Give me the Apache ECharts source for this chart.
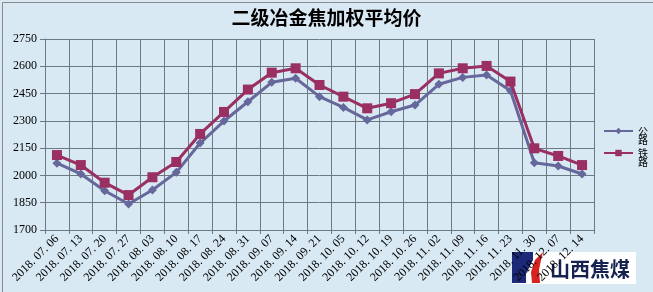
<!DOCTYPE html>
<html>
<head>
<meta charset="utf-8">
<script src="https://cdn.jsdelivr.net/npm/echarts@6/dist/echarts.min.js"></script>
<style>html,body{margin:0;padding:0;background:#d8e9f3;}#c{width:653px;height:292px;}</style>
</head>
<body>
<div id="c"></div>
<script>
const categories = ['2018. 07. 06','2018. 07. 13','2018. 07. 20','2018. 07. 27','2018. 08. 03','2018. 08. 10','2018. 08. 17','2018. 08. 24','2018. 08. 31','2018. 09. 07','2018. 09. 14','2018. 09. 21','2018. 10. 05','2018. 10. 12','2018. 10. 19','2018. 10. 26','2018. 11. 02','2018. 11. 09','2018. 11. 16','2018. 11. 23','2018. 11. 30','2018. 12. 07','2018. 12. 14'];
const roadValues = [2067,2008,1916,1843,1920,2017,2178,2299,2405,2512,2534,2433,2374,2305,2350,2387,2501,2539,2552,2466,2070,2052,2008];
const railValues = [2112,2057,1960,1892,1990,2074,2228,2349,2472,2565,2589,2497,2433,2369,2397,2447,2561,2589,2602,2516,2149,2107,2057];
const yTicks = [1700,1850,2000,2150,2300,2450,2600,2750];
const titleText = '二级冶金焦加权平均价';
const roadName = '公路';
const railName = '铁路';

const chart = echarts.init(document.getElementById('c'));
const vert = n => '\n' + n.split('').join('\n');
const legendText = {fontFamily: 'Noto Sans CJK SC', fontSize: 10, lineHeight: 9.5, color: '#000'};
chart.setOption({
  backgroundColor: '#d8e9f3',
  animation: false,
  title: {text: titleText, left: 'center', top: 3,
    textStyle: {fontFamily: 'Noto Sans CJK SC', fontWeight: 'bold', fontSize: 19, color: '#000'}},
  grid: {left: 45, right: 59, top: 39, bottom: 62},
  legend: [
    {data: [roadName], orient: 'vertical', left: 603, top: 116.5, itemWidth: 29, itemHeight: 8, itemGap: 0, padding: 0,
     formatter: vert, textStyle: legendText},
    {data: [railName], orient: 'vertical', left: 603, top: 138.5, itemWidth: 29, itemHeight: 8, itemGap: 0, padding: 0,
     formatter: vert, textStyle: legendText}
  ],
  xAxis: {type: 'category', data: categories, boundaryGap: true,
    axisLine: {lineStyle: {color: '#6e7a82', width: 1}},
    axisTick: {show: true, length: 4, lineStyle: {color: '#6e7a82'}},
    splitLine: {show: true, interval: 0, lineStyle: {color: '#6e7a82', width: 1}},
    axisLabel: {interval: 0, rotate: 45, margin: 7, fontSize: 12, color: '#000', fontFamily: 'Liberation Serif'}},
  yAxis: {type: 'value', min: yTicks[0], max: yTicks[yTicks.length-1], interval: 150,
    axisLine: {show: true, lineStyle: {color: '#6e7a82'}},
    axisTick: {show: true, length: 5, lineStyle: {color: '#6e7a82'}},
    splitLine: {show: true, lineStyle: {color: '#6e7a82', width: 1}},
    axisLabel: {fontSize: 12, color: '#000', margin: 8, fontFamily: 'Liberation Serif', formatter: v => String(v)}},
  series: [
    {name: roadName, type: 'line', data: roadValues, symbol: 'diamond', symbolSize: 9,
     lineStyle: {color: '#66679b', width: 3}, itemStyle: {color: '#66679b'}, z: 2},
    {name: railName, type: 'line', data: railValues, symbol: 'rect', symbolSize: 10,
     lineStyle: {color: '#9a2f62', width: 3}, itemStyle: {color: '#9a2f62'}, z: 3}
  ],
  graphic: [
    {type: 'rect', left: 0, top: 0, shape: {x: 0.5, y: 0.5, width: 652, height: 291}, style: {fill: 'none', stroke: '#8a8a8a', lineWidth: 1}, z: 100},
    {type: 'group', left: 512, top: 252, z: 90, children: [
      {type: 'rect', shape: {x: 0, y: 0, width: 124, height: 32}, style: {fill: '#ffffff'}},
      {type: 'rect', shape: {x: 0, y: 0, width: 21, height: 31}, style: {fill: '#1c2878'}},
      {type: 'polygon', shape: {points: [[31,0],[21,31],[14,31],[14,22],[22,6],[26,0]]}, style: {fill: '#ffffff'}},
      {type: 'polygon', shape: {points: [[31,0],[29,8],[27,18],[28,31],[20,31],[19,20],[23,8]]}, style: {fill: '#d6231f'}},
      {type: 'text', x: 38, y: 7, style: {text: '山西焦煤', fontFamily: 'Noto Sans CJK SC', fontWeight: 'bold', fontSize: 20, fill: '#15224f'}}
    ]}
  ]
});
</script>
</body>
</html>
